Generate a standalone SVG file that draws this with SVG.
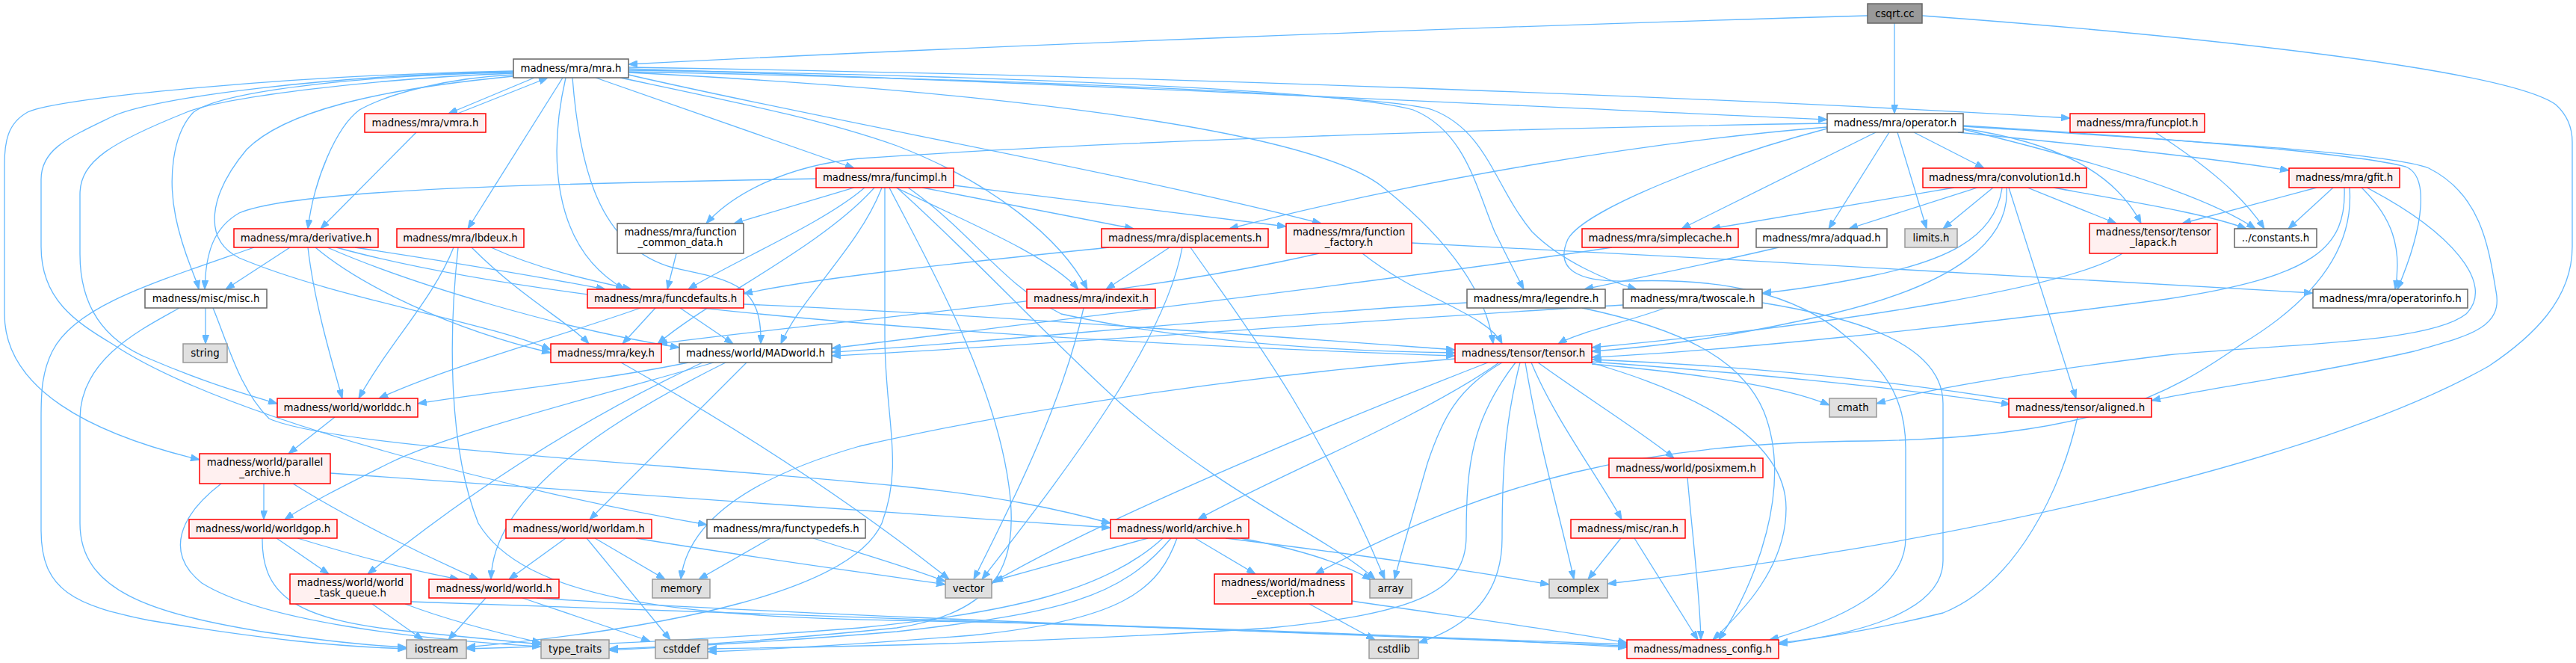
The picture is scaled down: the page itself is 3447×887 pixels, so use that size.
<svg xmlns="http://www.w3.org/2000/svg" width="3447" height="887" viewBox="0 0 3447 887">
<defs>
<marker id="ah" viewBox="0 0 12 9" refX="12" refY="4.5" markerWidth="12" markerHeight="9" markerUnits="userSpaceOnUse" orient="auto"><path d="M0,0L12,4.5L0,9z" fill="#63b8ff" stroke="#63b8ff" stroke-width="1"/></marker>
<style>
.e path{fill:none;stroke:#63b8ff;stroke-width:1.3;marker-end:url(#ah)}
.w rect{fill:#ffffff;stroke:#666666;stroke-width:1.5}
.r rect{fill:#fff0f0;stroke:#ff0000;stroke-width:1.5}
.g rect{fill:#e0e0e0;stroke:#999999;stroke-width:1.5}
.root rect{fill:#999999;stroke:#666666;stroke-width:1.5}
text{font-family:"DejaVu Sans","Liberation Sans",sans-serif;font-size:13.33px;fill:#000;text-anchor:middle}
</style>
</defs>
<rect x="0" y="0" width="3447" height="887" fill="#ffffff"/>
<g id="edges" class="e">
<path d="M2499,21 C2000,35 1300,62 841,86"/>
<path d="M2535,31 L2535,152"/>
<path d="M2572,21 C2900,45 3350,90 3420,140 Q3442,160 3442,190 L3442,330 C3442,400 3390,450 3330,490 C3100,620 2600,730 2151,781"/>
<path d="M715,104 L600,152"/>
<path d="M612,152 L733,104"/>
<path d="M753,104 L626,306"/>
<path d="M797,104 L1143,225"/>
<path d="M687,100 C600,104 520,125 481,147 C450,170 420,240 412,306"/>
<path d="M687,97 C500,100 300,120 259,150 C230,180 225,240 235,290 C245,340 262,370 266,387"/>
<path d="M557,177 L429,306"/>
<path d="M687,95 C400,100 80,130 37,150 C10,165 6,190 6,220 L6,420 C6,520 120,580 267,615"/>
<path d="M687,96 C450,100 200,130 148,157 C90,185 55,200 55,240 L55,330 C55,400 100,430 150,460 C300,560 700,660 946,702"/>
<path d="M687,98 C500,105 300,130 250,150 C150,190 107,215 107,260 L107,340 C107,420 150,460 200,480 C270,510 320,525 371,540"/>
<path d="M757,104 C735,200 735,330 836,387"/>
<path d="M766,104 C775,220 800,330 900,358 C980,375 1020,380 1018,460"/>
<path d="M830,104 C1000,140 1100,160 1200,195 C1330,245 1420,320 1455,387"/>
<path d="M841,100 C1100,160 1500,230 1768,299"/>
<path d="M841,92 C1400,110 2100,145 2445,160"/>
<path d="M841,90 C1500,100 2300,130 2770,158"/>
<path d="M841,97 C1300,120 1750,170 1850,250 C1950,330 1990,400 1998,460"/>
<path d="M841,94 C1300,100 1800,120 1891,147 C1960,175 1975,250 2000,310 C2020,350 2030,370 2039,387"/>
<path d="M841,96 C1300,105 1850,125 1917,147 C1990,175 2000,250 2050,310 C2090,350 2150,375 2190,387"/>
<path d="M687,102 C500,120 380,150 330,200 C280,260 270,320 320,345 C450,400 650,430 737,468"/>
<path d="M2445,165 C2000,172 1500,188 1150,212 C1050,222 980,260 945,299"/>
<path d="M2445,170 C2200,190 1900,240 1645,306"/>
<path d="M2510,177 L2250,306"/>
<path d="M2528,177 L2447,306"/>
<path d="M2539,177 L2578,306"/>
<path d="M2561,177 L2655,225"/>
<path d="M2620,177 C2800,195 2950,210 3063,228"/>
<path d="M2627,172 C2750,190 2830,230 2865,299"/>
<path d="M2627,173 C2800,215 2950,260 3018,306"/>
<path d="M2627,168 C2900,185 3150,205 3219,223 C3250,235 3245,300 3208,387"/>
<path d="M2627,169 C2950,190 3200,205 3250,225 C3320,260 3330,330 3340,390 C3350,440 3300,450 3230,470 C3100,500 2950,520 2879,536"/>
<path d="M2445,172 C2300,210 2120,280 2098,320 C2080,360 2110,378 2180,376 C2300,372 2400,390 2470,450 C2530,500 2550,540 2550,600 L2550,720 C2550,790 2460,830 2368,856"/>
<path d="M2615,251 L2290,306"/>
<path d="M2646,251 L2474,306"/>
<path d="M2667,251 L2600,306"/>
<path d="M2713,251 L2832,299"/>
<path d="M2748,251 C2850,270 2950,285 3006,306"/>
<path d="M2679,251 C2670,320 2600,350 2500,370 C2450,380 2400,388 2358,392"/>
<path d="M2685,251 C2690,320 2620,380 2450,420 C2300,455 2200,465 2130,470"/>
<path d="M2688,251 L2778,533"/>
<path d="M2358,405 C2450,420 2600,450 2600,540 L2600,750 C2600,820 2480,850 2380,860"/>
<path d="M3100,251 L2920,299"/>
<path d="M3122,251 L3062,306"/>
<path d="M3137,251 C3140,330 3100,370 2900,400 C2600,440 2300,470 2130,478"/>
<path d="M3144,251 C3150,330 3100,400 3000,460 C2900,530 2800,585 2500,590 C2200,592 2000,640 1760,768"/>
<path d="M3160,251 C3200,290 3215,330 3205,387"/>
<path d="M3167,251 C3280,310 3340,380 3300,420 C3250,460 3050,460 2900,475 C2700,500 2580,520 2511,540"/>
<path d="M2884,177 C2950,220 3000,260 3030,306"/>
<path d="M1143,251 L982,299"/>
<path d="M1092,239 C800,245 400,250 320,285 C285,305 275,340 274,387"/>
<path d="M1157,251 C1100,300 980,350 921,387"/>
<path d="M1234,251 L1517,306"/>
<path d="M1276,248 L1721,303"/>
<path d="M1199,251 C1300,300 1400,340 1443,387"/>
<path d="M1170,251 C1100,330 950,400 880,460"/>
<path d="M1180,251 C1150,330 1070,400 1045,460"/>
<path d="M1215,251 C1300,310 1340,380 1420,420 C1600,460 1800,470 1947,472"/>
<path d="M1184,251 L1184,450 C1184,560 1210,620 1180,700 C1140,790 900,840 624,866"/>
<path d="M1190,251 C1230,330 1330,500 1350,650 C1365,760 1330,820 1200,840 C1000,860 880,866 815,868"/>
<path d="M1200,251 C1300,340 1400,450 1500,540 C1650,670 1780,720 1840,775"/>
<path d="M388,331 L302,387"/>
<path d="M340,331 C200,380 100,410 70,470 C55,500 55,530 55,560 L55,710 C55,790 100,810 200,830 C350,855 450,865 544,868"/>
<path d="M412,331 C420,400 440,470 458,533"/>
<path d="M475,331 C600,350 720,370 810,387"/>
<path d="M422,331 C480,380 600,440 737,472"/>
<path d="M438,331 C550,380 750,440 909,465"/>
<path d="M450,331 C700,400 1200,450 1947,476"/>
<path d="M607,331 C580,400 520,460 480,533"/>
<path d="M613,331 C600,450 600,600 640,700 C700,800 900,825 1200,830 C1600,838 1900,850 2177,866"/>
<path d="M631,331 C700,400 760,430 788,460"/>
<path d="M657,331 C720,360 790,375 845,387"/>
<path d="M905,339 L893,387"/>
<path d="M1484,331 C1300,350 1100,370 995,393"/>
<path d="M1565,331 L1480,387"/>
<path d="M1582,331 C1560,450 1450,600 1314,775"/>
<path d="M1593,331 C1640,400 1760,550 1853,775"/>
<path d="M1889,325 C2300,345 2800,375 3095,392"/>
<path d="M1823,339 C1900,400 1990,420 2010,460"/>
<path d="M1765,339 C1500,400 1100,430 881,460"/>
<path d="M2157,331 C1900,370 1400,430 1113,466"/>
<path d="M2380,331 C2300,350 2200,370 2120,387"/>
<path d="M2840,339 C2780,380 2500,430 2130,465"/>
<path d="M1963,405 C1700,420 1300,460 1113,471"/>
<path d="M2117,412 C2250,440 2330,480 2360,550 C2400,650 2350,780 2300,856"/>
<path d="M2228,412 C2180,430 2110,445 2085,460"/>
<path d="M2172,408 C1800,430 1400,462 1113,476"/>
<path d="M2130,484 C2350,500 2550,520 2690,541"/>
<path d="M2692,535 C2500,505 2300,488 2131,481"/>
<path d="M2130,487 C2300,502 2400,522 2448,542"/>
<path d="M2041,485 C2060,600 2090,700 2106,775"/>
<path d="M2049,485 C2080,560 2140,640 2170,695"/>
<path d="M2058,485 C2120,530 2200,580 2240,613"/>
<path d="M2010,485 C1950,520 1930,560 1910,620 C1890,690 1875,740 1866,775"/>
<path d="M2034,485 C2015,560 2010,620 2010,720 C2010,800 1960,840 1898,860"/>
<path d="M1991,485 C1850,540 1500,680 1327,780"/>
<path d="M2006,485 C1900,560 1700,640 1603,695"/>
<path d="M2128,485 C2250,520 2390,580 2390,680 C2390,760 2330,820 2292,856"/>
<path d="M2028,485 C1970,560 1962,620 1962,717 C1962,790 1900,820 1700,840 C1400,860 1100,866 947,868"/>
<path d="M1947,480 C1700,500 1400,540 1150,597 C1000,640 920,700 911,775"/>
<path d="M2258,639 C2265,720 2275,800 2276,856"/>
<path d="M2169,720 L2125,775"/>
<path d="M2187,720 L2272,856"/>
<path d="M2780,558 C2760,650 2700,780 2600,820 C2500,845 2420,855 2380,862"/>
<path d="M1752,808 L1840,856"/>
<path d="M1809,804 C1950,825 2100,845 2177,860"/>
<path d="M1536,720 L1330,777"/>
<path d="M1599,720 L1680,768"/>
<path d="M1640,720 C1800,740 1950,760 2073,782"/>
<path d="M1660,720 C1740,735 1800,755 1835,776"/>
<path d="M1556,720 C1480,790 1350,820 1150,840 C900,860 700,866 624,868"/>
<path d="M1567,720 C1500,800 1420,820 1200,845 C1000,862 880,866 815,870"/>
<path d="M1575,720 C1550,790 1500,830 1300,850 C1100,866 1000,870 947,872"/>
<path d="M275,412 L275,460"/>
<path d="M240,412 C190,440 107,480 107,560 L107,700 C107,790 200,820 350,845 C450,860 500,864 544,866"/>
<path d="M285,412 C305,460 320,520 360,560 C450,600 900,620 1200,650 C1350,665 1430,685 1486,700"/>
<path d="M448,558 L386,607"/>
<path d="M353,647 L353,695"/>
<path d="M392,647 C460,690 560,740 640,775"/>
<path d="M442,633 C700,650 1100,680 1486,706"/>
<path d="M296,647 C240,690 220,740 270,780 C350,830 550,855 724,865"/>
<path d="M370,720 L440,768"/>
<path d="M398,720 C480,745 560,765 614,775"/>
<path d="M351,720 C350,800 400,830 550,845 C650,855 700,860 724,862"/>
<path d="M498,808 L566,856"/>
<path d="M550,805 C900,820 1600,840 2177,862"/>
<path d="M542,808 C600,830 680,850 724,860"/>
<path d="M650,800 L600,856"/>
<path d="M699,800 L870,858"/>
<path d="M718,800 C1000,820 1700,845 2177,864"/>
<path d="M757,720 L681,775"/>
<path d="M796,720 L890,775"/>
<path d="M785,720 L897,856"/>
<path d="M851,720 C1000,745 1150,765 1265,782"/>
<path d="M1031,720 L935,775"/>
<path d="M1088,720 C1150,740 1220,760 1265,778"/>
<path d="M831,485 C1000,580 1150,680 1270,775"/>
<path d="M1450,412 C1420,550 1340,700 1303,775"/>
<path d="M857,412 C750,450 600,490 507,533"/>
<path d="M877,412 L833,460"/>
<path d="M910,412 L981,460"/>
<path d="M995,407 C1300,420 1700,450 1947,468"/>
<path d="M921,485 C800,510 650,525 559,540"/>
<path d="M955,485 C800,530 600,580 520,620 C460,650 410,675 381,695"/>
<path d="M971,485 C820,560 660,660 657,775"/>
<path d="M999,485 L789,695"/>
<path d="M940,485 C800,550 650,640 492,768"/>
</g>
<g id="n0" class="root"><rect x="2499" y="5" width="73" height="26"/><text x="2535.5" y="23">csqrt.cc</text></g>
<g id="n1" class="w"><rect x="687" y="79" width="154" height="25"/><text x="764" y="96">madness/mra/mra.h</text></g>
<g id="n2" class="w"><rect x="2445" y="152" width="182" height="25"/><text x="2536" y="169">madness/mra/operator.h</text></g>
<g id="n3" class="r"><rect x="488" y="152" width="162" height="25"/><text x="569" y="169">madness/mra/vmra.h</text></g>
<g id="n4" class="r"><rect x="2770" y="152" width="180" height="25"/><text x="2860" y="169">madness/mra/funcplot.h</text></g>
<g id="n5" class="r"><rect x="1092" y="225" width="184" height="26"/><text x="1184" y="242">madness/mra/funcimpl.h</text></g>
<g id="n6" class="r"><rect x="2573" y="225" width="219" height="26"/><text x="2682.5" y="242">madness/mra/convolution1d.h</text></g>
<g id="n7" class="r"><rect x="3063" y="225" width="148" height="26"/><text x="3137" y="242">madness/mra/gfit.h</text></g>
<g id="n8" class="r"><rect x="313" y="306" width="193" height="25"/><text x="409.5" y="323">madness/mra/derivative.h</text></g>
<g id="n9" class="r"><rect x="531" y="306" width="170" height="25"/><text x="616" y="323">madness/mra/lbdeux.h</text></g>
<g id="n10" class="w"><rect x="826" y="299" width="169" height="40"/><text x="910.5" y="315">madness/mra/function</text><text x="910.5" y="329">_common_data.h</text></g>
<g id="n11" class="r"><rect x="1474" y="306" width="223" height="25"/><text x="1585.5" y="323">madness/mra/displacements.h</text></g>
<g id="n12" class="r"><rect x="1721" y="299" width="168" height="40"/><text x="1805" y="315">madness/mra/function</text><text x="1805" y="329">_factory.h</text></g>
<g id="n13" class="r"><rect x="2117" y="306" width="209" height="25"/><text x="2221.5" y="323">madness/mra/simplecache.h</text></g>
<g id="n14" class="w"><rect x="2350" y="306" width="175" height="25"/><text x="2437.5" y="323">madness/mra/adquad.h</text></g>
<g id="n15" class="g"><rect x="2549" y="306" width="70" height="25"/><text x="2584" y="323">limits.h</text></g>
<g id="n16" class="r"><rect x="2796" y="299" width="171" height="40"/><text x="2881.5" y="315">madness/tensor/tensor</text><text x="2881.5" y="329">_lapack.h</text></g>
<g id="n17" class="w"><rect x="2990" y="306" width="110" height="25"/><text x="3045" y="323">../constants.h</text></g>
<g id="n18" class="w"><rect x="194" y="387" width="163" height="25"/><text x="275.5" y="404">madness/misc/misc.h</text></g>
<g id="n19" class="r"><rect x="786" y="387" width="209" height="25"/><text x="890.5" y="404">madness/mra/funcdefaults.h</text></g>
<g id="n20" class="r"><rect x="1374" y="387" width="172" height="25"/><text x="1460" y="404">madness/mra/indexit.h</text></g>
<g id="n21" class="w"><rect x="1963" y="387" width="185" height="25"/><text x="2055.5" y="404">madness/mra/legendre.h</text></g>
<g id="n22" class="w"><rect x="2172" y="387" width="186" height="25"/><text x="2265" y="404">madness/mra/twoscale.h</text></g>
<g id="n23" class="w"><rect x="3095" y="387" width="207" height="25"/><text x="3198.5" y="404">madness/mra/operatorinfo.h</text></g>
<g id="n24" class="g"><rect x="245" y="460" width="59" height="25"/><text x="274.5" y="477">string</text></g>
<g id="n25" class="r"><rect x="737" y="460" width="148" height="25"/><text x="811" y="477">madness/mra/key.h</text></g>
<g id="n26" class="w"><rect x="909" y="460" width="204" height="25"/><text x="1011" y="477">madness/world/MADworld.h</text></g>
<g id="n27" class="r"><rect x="1947" y="460" width="183" height="25"/><text x="2038.5" y="477">madness/tensor/tensor.h</text></g>
<g id="n28" class="r"><rect x="371" y="533" width="188" height="25"/><text x="465" y="550">madness/world/worlddc.h</text></g>
<g id="n29" class="g"><rect x="2448" y="533" width="63" height="25"/><text x="2479.5" y="550">cmath</text></g>
<g id="n30" class="r"><rect x="2688" y="533" width="191" height="25"/><text x="2783.5" y="550">madness/tensor/aligned.h</text></g>
<g id="n31" class="r"><rect x="267" y="607" width="175" height="40"/><text x="354.5" y="623">madness/world/parallel</text><text x="354.5" y="637">_archive.h</text></g>
<g id="n32" class="r"><rect x="2153" y="613" width="206" height="26"/><text x="2256" y="631">madness/world/posixmem.h</text></g>
<g id="n33" class="r"><rect x="253" y="695" width="198" height="25"/><text x="352" y="712">madness/world/worldgop.h</text></g>
<g id="n34" class="r"><rect x="677" y="695" width="195" height="25"/><text x="774.5" y="712">madness/world/worldam.h</text></g>
<g id="n35" class="w"><rect x="946" y="695" width="212" height="25"/><text x="1052" y="712">madness/mra/functypedefs.h</text></g>
<g id="n36" class="r"><rect x="1486" y="695" width="185" height="25"/><text x="1578.5" y="712">madness/world/archive.h</text></g>
<g id="n37" class="r"><rect x="2102" y="695" width="153" height="25"/><text x="2178.5" y="712">madness/misc/ran.h</text></g>
<g id="n38" class="r"><rect x="388" y="768" width="162" height="40"/><text x="469" y="784">madness/world/world</text><text x="469" y="798">_task_queue.h</text></g>
<g id="n39" class="r"><rect x="574" y="775" width="174" height="25"/><text x="661" y="792">madness/world/world.h</text></g>
<g id="n40" class="g"><rect x="873" y="775" width="77" height="25"/><text x="911.5" y="792">memory</text></g>
<g id="n41" class="g"><rect x="1265" y="775" width="62" height="25"/><text x="1296" y="792">vector</text></g>
<g id="n42" class="r"><rect x="1625" y="768" width="184" height="40"/><text x="1717" y="784">madness/world/madness</text><text x="1717" y="798">_exception.h</text></g>
<g id="n43" class="g"><rect x="1833" y="775" width="56" height="25"/><text x="1861" y="792">array</text></g>
<g id="n44" class="g"><rect x="2073" y="775" width="78" height="25"/><text x="2112" y="792">complex</text></g>
<g id="n45" class="g"><rect x="544" y="856" width="80" height="25"/><text x="584" y="873">iostream</text></g>
<g id="n46" class="g"><rect x="724" y="856" width="91" height="25"/><text x="769.5" y="873">type_traits</text></g>
<g id="n47" class="g"><rect x="877" y="856" width="70" height="25"/><text x="912" y="873">cstddef</text></g>
<g id="n48" class="g"><rect x="1832" y="856" width="66" height="25"/><text x="1865" y="873">cstdlib</text></g>
<g id="n49" class="r"><rect x="2177" y="856" width="203" height="25"/><text x="2278.5" y="873">madness/madness_config.h</text></g>
</svg>
